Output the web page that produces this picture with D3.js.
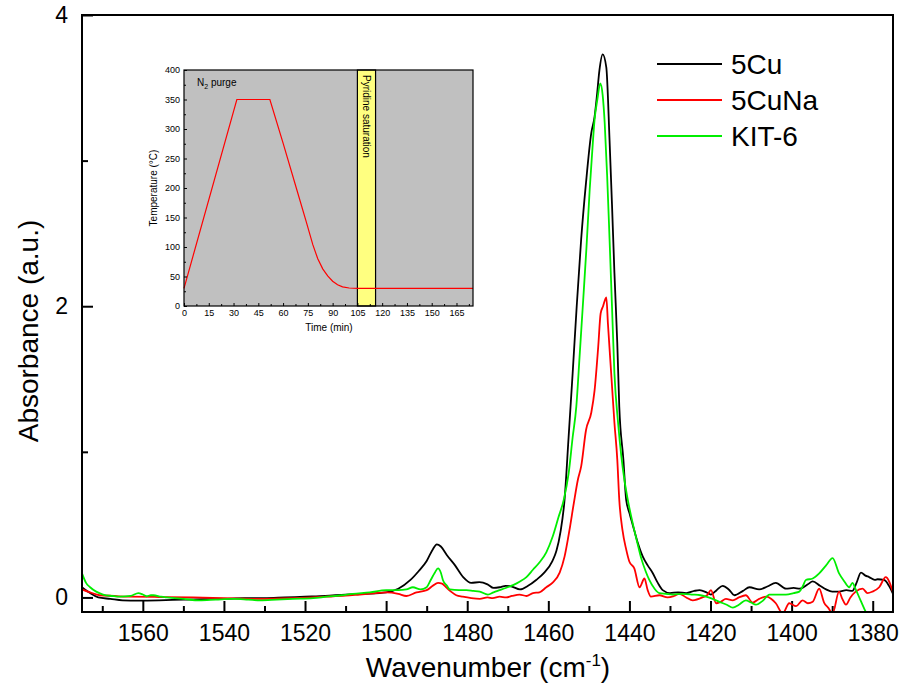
<!doctype html>
<html>
<head>
<meta charset="utf-8">
<script src="https://cdnjs.cloudflare.com/ajax/libs/d3/7.8.5/d3.min.js"></script>
<style>
  body { margin: 0; background: #fff; }
  svg text { font-family: "Liberation Sans", Arial, sans-serif; fill: #000; }
</style>
</head>
<body>
<svg id="chart" width="917" height="687"></svg>
<script>
// ---- main spectra (wavenumber in cm-1, absorbance a.u.) ----
const cuWave = [1575,1573,1571,1568,1565,1561,1556,1550,1545,1540,1535,1530,1525,1520,1515,1510,1505,1500,1497,1494,1492,1490,1488.5,1487.5,1486.5,1485,1483,1481,1479,1477,1475,1473.5,1472,1470.5,1469,1467,1465,1463,1461,1459,1458,1457,1456,1455,1454,1453,1451.9,1450.7,1449.4,1448.6,1448,1447.4,1446.6,1445.7,1444.9,1444.3,1443.7,1443,1442.5,1441.5,1440.8,1440,1439.2,1438,1436.7,1435.5,1434.3,1433,1431.8,1430,1428,1426,1424,1422.7,1421,1419.9,1418.5,1417,1415.5,1414.1,1412,1410.4,1408,1406,1403.9,1401.4,1399.5,1398,1396,1394.8,1393,1391.5,1390,1388.3,1386.5,1385,1384,1382.9,1381.8,1380.9,1379.5,1378.8,1377.2,1376,1375];
const cuAbs  = [0.07,0.03,0.0,-0.01,-0.02,-0.022,-0.02,-0.015,-0.012,-0.01,-0.005,-0.005,0,0.005,0.01,0.02,0.025,0.035,0.06,0.12,0.18,0.25,0.33,0.365,0.35,0.29,0.22,0.14,0.1,0.105,0.09,0.065,0.07,0.08,0.075,0.055,0.08,0.12,0.17,0.25,0.32,0.45,0.67,1.1,1.54,2.0,2.46,2.85,3.19,3.30,3.45,3.62,3.73,3.64,3.14,2.7,2.23,1.75,1.31,0.95,0.67,0.58,0.5,0.38,0.28,0.22,0.17,0.1,0.05,0.03,0.035,0.03,0.045,0.05,0.035,0.02,0.05,0.08,0.055,0.015,0.045,0.07,0.055,0.075,0.1,0.06,0.065,0.06,0.09,0.11,0.08,0.055,0.04,0.04,0.05,0.045,0.1,0.17,0.15,0.14,0.12,0.125,0.12,0.08,0.025];

const cunaWave = [1575,1573,1570.6,1567,1564,1556,1547.6,1540,1531.1,1523,1514.7,1510,1506.5,1503,1499.9,1497,1495,1492.5,1490,1488.5,1487.2,1486.2,1485.2,1484,1482.7,1481.1,1479,1476.9,1475,1473.7,1472,1470.4,1469,1467.1,1465.4,1463.8,1462.2,1460.5,1459,1457.2,1456,1454.8,1453.7,1452.7,1451.9,1450.7,1449.4,1448.6,1447.7,1447.1,1446.5,1445.7,1445.3,1444.5,1443.7,1443,1442.5,1441.7,1440.8,1440,1438.8,1437.5,1436.3,1435.5,1434.7,1432.6,1430.6,1429,1427.7,1426,1424.4,1422,1420.7,1419.9,1418.6,1417.5,1416.2,1414.5,1413,1411.3,1409.6,1408,1406.3,1405,1403.9,1402.2,1400.6,1398.9,1397.3,1396,1394.8,1393.2,1392,1391,1389.9,1388.3,1387.5,1386.6,1385.5,1384.2,1382.5,1381.3,1380.1,1378.4,1376.8,1375];
const cunaAbs  = [0.055,0.035,0.015,0.01,0.005,0.003,0,-0.005,-0.01,-0.005,0.005,0.012,0.02,0.028,0.035,0.025,0.01,0.035,0.05,0.08,0.1,0.095,0.07,0.04,0.015,0.005,-0.005,-0.01,0.0,-0.005,0.005,0.0,0.01,0.02,0.01,0.03,0.035,0.07,0.1,0.17,0.28,0.46,0.65,0.81,0.9,1.15,1.27,1.42,1.72,1.95,2.0,2.06,1.88,1.54,1.2,0.95,0.67,0.46,0.33,0.245,0.2,0.07,0.13,0.05,0.005,0.015,0.0,0.01,0.025,0.0,-0.02,0.0,0.02,0.05,-0.04,-0.03,-0.01,-0.02,0.0,0.015,-0.035,-0.01,0.005,-0.01,-0.04,-0.11,-0.04,-0.06,-0.02,-0.04,-0.03,0.06,-0.035,-0.07,-0.11,0.04,-0.01,-0.05,0.0,0.04,0.06,0.03,0.04,0.07,0.14,0.035];

const kitWave = [1575,1574,1573,1571.5,1569.8,1567.5,1565.6,1563,1561.1,1560,1559.1,1558,1557.4,1555.5,1554,1550,1546,1542,1537.7,1534,1531,1527,1523,1518,1514.7,1511,1508.2,1504,1500,1497,1495,1493.4,1491.5,1490,1489,1488,1487.2,1486.5,1486,1485,1484.3,1482,1480.2,1478.5,1476.9,1474.9,1473.5,1472,1470.5,1468.7,1467,1465.4,1463.8,1462.2,1460.5,1458.9,1457.5,1456.2,1455,1454,1453.1,1452.3,1451.5,1450.6,1449.8,1449.2,1448.6,1447.9,1447.2,1446.6,1446.1,1445.5,1444.9,1444.3,1443.7,1442.8,1442,1441.2,1440.4,1439.2,1438,1437.1,1436,1435.1,1433.8,1432.6,1431,1429.3,1427,1424.4,1422.5,1421.1,1419.5,1417.8,1416,1414.5,1413,1411.3,1410,1408.8,1407,1405.5,1403.5,1401.4,1399.5,1398.1,1397.2,1396.5,1394.8,1393.2,1391.5,1389.9,1388.3,1387,1385.8,1385,1384.2,1383,1381.7,1380.5,1379];
const kitAbs  = [0.165,0.1,0.07,0.04,0.02,0.01,0.005,0.01,0.03,0.02,0.008,0.015,0.015,0.005,0,-0.01,-0.02,-0.015,-0.01,-0.015,-0.02,-0.015,-0.01,-0.005,0.005,0.015,0.025,0.035,0.05,0.05,0.055,0.07,0.055,0.07,0.12,0.17,0.2,0.17,0.12,0.08,0.055,0.05,0.05,0.045,0.04,0.02,0.035,0.05,0.065,0.085,0.11,0.14,0.19,0.24,0.31,0.42,0.55,0.67,0.85,1.1,1.31,1.65,2.0,2.4,2.8,3.05,3.28,3.42,3.53,3.45,3.26,2.9,2.46,2.0,1.54,1.2,0.97,0.8,0.67,0.51,0.37,0.27,0.18,0.12,0.06,0.03,0.025,0.02,0.025,0.02,0.015,0.005,-0.01,-0.03,-0.05,-0.07,-0.05,-0.02,-0.035,-0.05,-0.02,0.02,0.02,0.02,0.03,0.04,0.08,0.12,0.13,0.165,0.22,0.27,0.165,0.11,0.07,0.1,0.055,-0.02,-0.1,-0.15,-0.2];

const seriesNames  = ["5Cu", "5CuNa", "KIT-6"];
const seriesColors = ["#000000", "#ff0000", "#00ee00"];

const xMajorTicks = [1560,1540,1520,1500,1480,1460,1440,1420,1400,1380];
const xMinorTicks = [1570,1550,1530,1510,1490,1470,1450,1430,1410,1390];
const yMajorTicks = [0,2,4];
const yMinorTicks = [1,3];

// ---- inset: temperature programme ----
const timeMin = [0,32,52,60,68,74,78,81,84,87,90,93,96,100,105,175];
const tempC   = [30,350,350,276,200,143,104,80,63,51,42,36,32.5,30.5,30,30];
const pyridineBand = [105,116];
const insetXTicks = [0,15,30,45,60,75,90,105,120,135,150,165];
const insetYTicks = [0,50,100,150,200,250,300,350,400];

const svg = d3.select("#chart");

/* main scales */
const x = d3.scaleLinear().domain([1575,1375]).range([82,893]);
const y = d3.scaleLinear().domain([-0.1,4]).range([612,15]);

svg.append("clipPath").attr("id","plotclip")
  .append("rect").attr("x",82).attr("y",15).attr("width",811).attr("height",597);

/* axes */
const xAxis = svg.append("g").attr("transform","translate(0,612)")
  .call(d3.axisBottom(x).tickValues(xMajorTicks).tickSizeInner(-11).tickSizeOuter(0).tickPadding(13).tickFormat(d3.format("d")));
svg.append("g").attr("transform","translate(0,612)")
  .call(d3.axisBottom(x).tickValues(xMinorTicks).tickSizeInner(-6).tickSizeOuter(0).tickFormat(""));
const yAxis = svg.append("g").attr("transform","translate(82,0)")
  .call(d3.axisLeft(y).tickValues(yMajorTicks).tickSizeInner(-11).tickSizeOuter(0).tickPadding(14).tickFormat(d3.format("d")));
svg.append("g").attr("transform","translate(82,0)")
  .call(d3.axisLeft(y).tickValues(yMinorTicks).tickSizeInner(-6).tickSizeOuter(0).tickFormat(""));

svg.selectAll(".domain").remove();
svg.selectAll(".tick line").attr("stroke","#000").attr("stroke-width",2);
xAxis.selectAll("text").style("font-size","23px").style("font-family","'Liberation Sans', Arial, sans-serif");
yAxis.selectAll("text").style("font-size","23px").style("font-family","'Liberation Sans', Arial, sans-serif");

/* spectra */
const line = d3.line().x(d => x(d[0])).y(d => y(d[1])).curve(d3.curveMonotoneX);
const allSeries = [
  d3.zip(cuWave, cuAbs),
  d3.zip(cunaWave, cunaAbs),
  d3.zip(kitWave, kitAbs)
];
svg.append("g").attr("clip-path","url(#plotclip)")
  .selectAll("path").data(allSeries).enter()
  .append("path")
    .attr("d", line)
    .attr("fill","none")
    .attr("stroke", (d,i) => seriesColors[i])
    .attr("stroke-width", 1.8)
    .attr("stroke-linejoin","round");

/* frame */
svg.append("rect").attr("x",82).attr("y",15).attr("width",811).attr("height",597)
  .attr("fill","none").attr("stroke","#000").attr("stroke-width",2);

/* axis titles */
svg.append("text").attr("transform","translate(38,331) rotate(-90)")
  .attr("text-anchor","middle").style("font-size","28px").text("Absorbance (a.u.)");
const xt = svg.append("text").attr("x",488).attr("y",677).attr("text-anchor","middle").style("font-size","28px");
xt.append("tspan").text("Wavenumber (cm");
xt.append("tspan").attr("dy",-11).style("font-size","17px").text("-1");
xt.append("tspan").attr("dy",11).text(")");

/* legend */
const leg = svg.append("g").selectAll("g").data(seriesNames).enter().append("g")
  .attr("transform",(d,i) => "translate(657," + (64 + i*36) + ")");
leg.append("line").attr("x1",0).attr("x2",65).attr("y1",0).attr("y2",0)
  .attr("stroke",(d,i) => seriesColors[i]).attr("stroke-width",2);
leg.append("text").attr("x",74).attr("y",10).style("font-size","28px").text(d => d);

/* ---- inset ---- */
const tx = d3.scaleLinear().domain([0,175]).range([184,473]);
const ty = d3.scaleLinear().domain([0,400]).range([306,70]);
const inset = svg.append("g");
inset.append("rect").attr("x",184).attr("y",70).attr("width",289).attr("height",236).attr("fill","#c0c0c0");
inset.append("rect").attr("x",tx(pyridineBand[0])).attr("y",70)
  .attr("width",tx(pyridineBand[1]) - tx(pyridineBand[0])).attr("height",236)
  .attr("fill","#ffff80").attr("stroke","#000").attr("stroke-width",1.2);

inset.append("path").datum(d3.zip(timeMin,tempC))
  .attr("d", d3.line().x(d => tx(d[0])).y(d => ty(d[1])))
  .attr("fill","none").attr("stroke","#ff0000").attr("stroke-width",1.2);

const ixa = inset.append("g").attr("transform","translate(0,306)")
  .call(d3.axisBottom(tx).tickValues(insetXTicks).tickSizeInner(-3).tickSizeOuter(0).tickPadding(4));
inset.append("g").attr("transform","translate(0,306)")
  .call(d3.axisBottom(tx).tickValues(insetXTicks.map(v => v + 7.5)).tickSizeInner(-2).tickSizeOuter(0).tickFormat(""));
const iya = inset.append("g").attr("transform","translate(184,0)")
  .call(d3.axisLeft(ty).tickValues(insetYTicks).tickSizeInner(-3).tickSizeOuter(0).tickPadding(4));
inset.append("g").attr("transform","translate(184,0)")
  .call(d3.axisLeft(ty).tickValues(insetYTicks.slice(0,-1).map(v => v + 25)).tickSizeInner(-2).tickSizeOuter(0).tickFormat(""));
inset.selectAll(".domain").remove();
inset.selectAll(".tick line").attr("stroke","#000").attr("stroke-width",1);
inset.selectAll(".tick text").style("font-size","9px").style("font-family","'Liberation Sans', Arial, sans-serif");

inset.append("rect").attr("x",184).attr("y",70).attr("width",289).attr("height",236)
  .attr("fill","none").attr("stroke","#000").attr("stroke-width",1.2);

const n2 = inset.append("text").attr("x",197).attr("y",86).style("font-size","10px");
n2.append("tspan").text("N");
n2.append("tspan").attr("dy",3).style("font-size","7px").text("2");
n2.append("tspan").attr("dy",-3).text(" purge");

inset.append("text").attr("transform","translate(" + (tx(110.5) - 3.5) + ",75) rotate(90)")
  .style("font-size","10px").text("Pyridine saturation");

inset.append("text").attr("transform","translate(157,188) rotate(-90)")
  .attr("text-anchor","middle").style("font-size","10px").text("Temperature (\u00B0C)");
inset.append("text").attr("x",329).attr("y",331).attr("text-anchor","middle")
  .style("font-size","10px").text("Time (min)");
</script>
</body>
</html>
